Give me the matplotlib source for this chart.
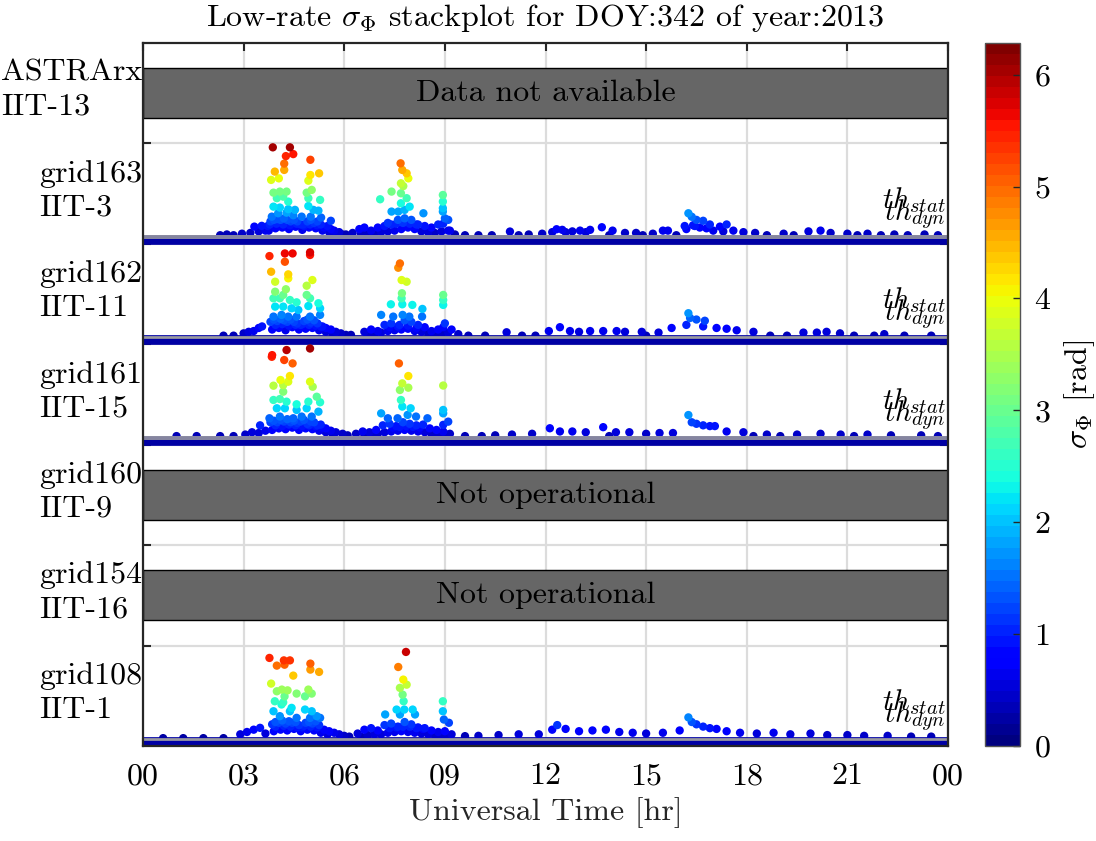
import numpy as np
import matplotlib
matplotlib.use('Agg')
import matplotlib.pyplot as plt
from matplotlib import colors, cm
from matplotlib.patches import Rectangle
from matplotlib.transforms import blended_transform_factory

plt.rcParams['font.family'] = ['cmr10', 'DejaVu Serif']
plt.rcParams['mathtext.fontset'] = 'cm'
plt.rcParams['axes.formatter.use_mathtext'] = True
plt.rcParams['axes.unicode_minus'] = False

# ---- data ----
row_labels = ['ASTRArx\nIIT-13', 'grid163\nIIT-3', 'grid162\nIIT-11', 'grid161\nIIT-15',
              'grid160\nIIT-9', 'grid154\nIIT-16', 'grid108\nIIT-1']
row_status = ['Data not available', None, None, None, 'Not operational', 'Not operational', None]

hour_ticks = [0, 3, 6, 9, 12, 15, 18, 21, 24]
hour_labels = ['00', '03', '06', '09', '12', '15', '18', '21', '00']

th_stat = 0.22
th_dyn = 0.14
band_hours = [0, 24]

# grid163 / IIT-3
g163_h = [3.87, 4.38, 4.26, 4.48, 4.99, 4.21, 4.21, 3.93, 3.82, 4.05, 4.99, 5.25, 4.93,
          3.89, 4.08, 4.28, 3.99, 4.18, 4.33, 4.88, 5.03, 4.93, 5.28,
          3.89, 4.08, 4.33, 4.53, 3.84, 4.03, 4.28, 4.48, 4.73, 4.93, 5.08, 5.23, 5.00, 5.31, 5.60,
          3.72, 3.80, 3.90, 4.00, 4.10, 4.20, 4.30, 4.40, 4.50, 4.60, 4.70, 4.80, 4.90, 5.00, 5.10,
          5.20, 5.30, 5.40, 5.50, 5.60, 5.70, 5.85,
          3.75, 3.95, 4.15, 4.35, 4.55, 4.75, 4.95, 5.15, 5.35, 5.55, 5.75, 5.95,
          3.78, 3.98, 4.18, 4.38, 4.58, 4.78, 4.98, 5.18, 5.38,
          3.32, 3.54, 3.45, 3.20, 2.95, 2.50, 3.65,
          7.68, 7.73, 7.86, 7.91, 7.69, 7.76, 7.41, 7.69, 7.86, 7.07, 7.69, 7.95, 7.80, 7.41, 7.61,
          8.36, 8.94, 8.94, 8.94, 8.94, 9.10,
          6.45, 6.60, 6.80, 7.00, 7.20, 7.40, 7.60, 7.80, 8.00, 8.20, 8.40, 8.60, 8.80, 9.00, 9.15,
          6.50, 6.70, 6.90, 7.10, 7.30, 7.50, 7.70, 7.90, 8.10, 8.30, 8.50, 8.70, 8.90, 9.10, 9.30,
          7.30, 7.55, 7.75, 7.95, 8.15, 8.95,
          6.05, 6.25,
          10.94, 11.5, 11.9, 12.33, 12.5, 12.8, 13.03, 13.33, 13.68, 14.0, 14.37, 14.7, 15.2, 15.5,
          15.65, 16.15, 16.26, 16.36, 16.5, 16.7, 16.9, 17.2, 17.4, 16.4, 17.6, 17.9, 18.25, 19.1,
          19.84, 20.2, 20.5, 21.0, 21.6, 22.4, 23.3,
          16.2, 16.45, 16.6, 16.8, 17.0, 17.3, 12.2, 12.6, 13.2,
          2.3, 2.7, 9.6, 10.0, 10.4, 11.2, 13.9, 14.9, 15.9, 18.6, 19.4, 21.3, 22.0, 22.8, 23.7]
g163_s = [6.02, 6.02, 5.45, 5.58, 5.21, 4.96, 4.55, 4.44, 3.90, 4.00, 4.22, 4.33, 3.85,
          3.07, 3.14, 3.14, 2.71, 2.81, 2.49, 3.07, 3.25, 2.71, 2.60,
          2.16, 2.10, 2.00, 1.95, 1.51, 1.73, 1.77, 1.60, 1.51, 2.20, 1.95, 1.90, 1.51, 1.45, 1.24,
          0.90, 1.20, 1.30, 1.35, 1.30, 1.40, 1.30, 1.20, 1.30, 1.20, 1.00, 0.90, 1.20, 1.30, 1.10,
          1.20, 1.00, 0.80, 0.90, 0.70, 0.60, 0.50,
          0.60, 0.75, 0.80, 0.70, 0.85, 0.65, 0.80, 0.75, 0.60, 0.50, 0.40, 0.35,
          1.00, 1.05, 1.00, 0.95, 1.05, 1.00, 1.00, 0.95, 0.85,
          0.86, 0.91, 0.55, 0.45, 0.40, 0.35, 0.60,
          4.98, 4.55, 4.33, 4.00, 3.68, 3.50, 3.14, 3.03, 2.71, 2.64, 2.38, 2.16, 1.95, 1.84, 1.84,
          1.73, 2.92, 2.49, 2.06, 1.84, 1.30,
          0.70, 0.80, 0.60, 0.80, 0.90, 1.00, 1.30, 1.40, 1.30, 1.00, 0.90, 0.80, 1.00, 1.40, 0.60,
          0.40, 0.45, 0.40, 0.50, 0.55, 0.60, 0.70, 0.80, 0.70, 0.55, 0.50, 0.45, 0.55, 0.60, 0.35,
          1.10, 1.05, 1.10, 1.05, 1.00, 1.05,
          0.35, 0.45,
          0.54, 0.35, 0.40, 0.69, 0.65, 0.55, 0.60, 0.65, 0.82, 0.60, 0.45, 0.45, 0.40, 0.60,
          0.60, 0.90, 1.73, 1.50, 1.30, 1.24, 1.00, 0.86, 1.00, 0.95, 0.60, 0.50, 0.45, 0.40,
          0.55, 0.60, 0.45, 0.40, 0.40, 0.35, 0.35,
          0.70, 0.90, 0.80, 0.75, 0.60, 0.55, 0.50, 0.50, 0.50,
          0.30, 0.30, 0.30, 0.30, 0.30, 0.30, 0.30, 0.30, 0.30, 0.30, 0.30, 0.30, 0.30, 0.30, 0.30]

# grid162 / IIT-11
g162_h = [3.77, 4.23, 4.46, 4.98, 4.98, 4.23, 3.82, 4.33, 4.33, 3.94, 5.05, 4.88, 3.94, 4.26,
          3.89, 4.08, 4.18, 4.38, 4.58, 4.88, 4.98, 5.23,
          3.94, 4.18, 4.43, 4.63, 4.93, 5.28,
          3.89, 4.13, 4.33, 4.58, 4.98, 5.28,
          3.00, 3.15, 3.30, 3.45, 3.55, 3.80, 3.90, 4.00, 4.10, 4.20, 4.30, 4.40, 4.50, 4.60, 4.70,
          4.80, 4.90, 5.00, 5.10, 5.20, 5.30, 5.45, 5.60, 5.75, 5.90, 6.05, 6.20,
          3.85, 4.05, 4.25, 4.45, 4.65, 4.85, 5.05, 5.25, 5.45, 5.65,
          3.95, 4.15, 4.35, 4.55, 4.75, 4.95, 5.15, 5.35,
          7.66, 7.61, 7.71, 7.86, 7.72, 7.71, 7.39, 7.73, 8.03, 8.33, 8.95, 8.95, 8.95, 7.10, 7.46,
          7.74, 7.94, 8.32,
          6.60, 6.80, 7.00, 7.20, 7.40, 7.60, 7.80, 8.00, 8.20, 8.40, 8.60, 8.80, 9.00, 9.20, 9.40,
          6.70, 6.90, 7.10, 7.30, 7.50, 7.70, 7.90, 8.10, 8.30, 8.50, 8.70, 8.90, 9.10,
          7.35, 7.65, 7.90, 8.15, 8.95,
          10.84, 12.1, 12.43, 12.73, 13.0, 13.33, 13.72, 14.12, 14.37, 14.87, 15.37, 15.76, 16.2,
          16.26, 16.31, 16.5, 16.75, 16.7, 17.1, 17.4, 17.7, 18.2, 19.69, 20.09, 20.38, 20.78, 22.1,
          2.4, 2.7, 9.7, 10.2, 11.3, 11.7, 15.0, 18.7, 19.2, 21.2, 21.8, 22.7, 23.5]
g162_s = [5.48, 5.65, 5.65, 5.55, 5.72, 5.11, 4.46, 4.29, 4.03, 3.81, 3.92, 3.55, 3.16, 3.32,
          2.73, 2.73, 2.95, 2.62, 2.47, 2.95, 2.73, 2.41,
          2.19, 2.19, 2.08, 1.97, 2.23, 2.08,
          1.54, 1.65, 1.54, 1.54, 1.54, 1.65,
          0.45, 0.55, 0.60, 0.80, 0.90, 1.20, 1.35, 1.25, 1.40, 1.30, 1.20, 1.35, 1.20, 1.10, 1.00,
          1.25, 1.35, 1.15, 1.30, 1.10, 0.90, 0.80, 0.70, 0.55, 0.45, 0.35, 0.35,
          0.70, 0.80, 0.65, 0.85, 0.70, 0.75, 0.80, 0.65, 0.55, 0.45,
          1.00, 1.05, 0.95, 1.00, 1.05, 1.00, 0.95, 0.90,
          5.00, 4.72, 3.92, 3.81, 3.06, 2.73, 2.34, 2.34, 2.30, 2.04, 2.95, 2.62, 2.30, 1.65, 1.54,
          1.65, 1.54, 1.54,
          0.55, 0.70, 0.60, 1.00, 1.10, 0.90, 1.30, 1.20, 1.00, 0.85, 0.60, 0.70, 1.10, 0.70, 0.40,
          0.40, 0.45, 0.50, 0.60, 0.65, 0.70, 0.75, 0.60, 0.55, 0.45, 0.40, 0.45, 0.50,
          0.85, 1.00, 0.95, 0.80, 0.85,
          0.52, 0.60, 0.85, 0.60, 0.55, 0.60, 0.60, 0.60, 0.55, 0.55, 0.50, 0.80, 1.00,
          1.76, 1.45, 1.35, 1.27, 0.90, 0.80, 0.75, 0.65, 0.55, 0.50, 0.50, 0.55, 0.45, 0.40,
          0.30, 0.30, 0.30, 0.30, 0.30, 0.30, 0.30, 0.30, 0.30, 0.30, 0.30, 0.30, 0.30]

# grid161 / IIT-15
g161_h = [3.84, 3.85, 4.28, 4.98, 4.21, 4.46, 4.38, 4.10, 4.33, 3.89, 4.18, 4.98, 5.06, 4.18,
          3.89, 4.08, 4.28, 4.58, 4.93, 5.18, 5.28,
          3.99, 4.23, 4.58, 4.88, 5.23,
          3.77, 4.08, 4.48, 4.73, 5.03,
          3.05, 3.25, 3.45, 3.65, 3.80, 3.90, 4.00, 4.10, 4.20, 4.30, 4.40, 4.50, 4.60, 4.70, 4.80,
          4.90, 5.00, 5.10, 5.20, 5.30, 5.45, 5.60, 5.75, 5.95, 6.10,
          3.85, 4.05, 4.25, 4.45, 4.65, 4.85, 5.05, 5.25, 5.45, 5.65, 3.49,
          3.95, 4.15, 4.35, 4.55, 4.75, 4.95, 5.15, 5.35,
          7.63, 7.91, 7.73, 7.91, 7.66, 8.95, 7.69, 7.73, 7.98, 8.95, 8.95, 7.10, 7.30, 7.59, 7.89,
          8.14, 8.48, 9.10, 8.95,
          6.35, 6.55, 6.75, 6.95, 7.15, 7.35, 7.55, 7.75, 7.95, 8.15, 8.35, 8.55, 8.75, 8.95, 9.15,
          6.60, 6.80, 7.00, 7.20, 7.40, 7.60, 7.80, 8.00, 8.20, 8.40, 8.60, 8.80, 9.00,
          7.45, 7.65, 7.85, 8.05, 8.25,
          10.5, 11.0, 11.6, 12.13, 12.43, 12.8, 13.2, 13.72, 14.1, 14.5, 15.0, 15.4, 15.8, 16.26,
          16.36, 16.5, 16.7, 16.9, 17.05, 17.4, 17.9, 18.6, 19.5, 20.2, 20.8, 21.6, 22.3, 23.2,
          1.0, 1.6, 2.3, 2.7, 9.6, 10.1, 13.9, 18.2, 19.0, 21.2, 23.7]
g161_s = [5.46, 5.57, 5.90, 6.00, 5.25, 5.03, 4.21, 3.95, 3.84, 3.58, 3.62, 3.84, 3.51, 3.19,
          2.65, 2.71, 2.54, 2.37, 2.54, 2.86, 2.50,
          2.11, 2.11, 2.00, 2.11, 1.89,
          1.46, 1.57, 1.46, 1.57, 1.57,
          0.40, 0.55, 0.50, 0.65, 1.20, 1.30, 1.20, 1.35, 1.25, 1.40, 1.20, 1.30, 1.15, 1.25, 1.35,
          1.10, 1.25, 1.20, 1.00, 1.05, 0.80, 0.65, 0.55, 0.45, 0.35,
          0.70, 0.80, 0.75, 0.85, 0.70, 0.80, 0.75, 0.65, 0.55, 0.45, 1.00,
          1.00, 0.95, 1.05, 1.00, 0.95, 1.00, 0.95, 0.85,
          5.03, 4.21, 3.73, 3.45, 3.30, 3.59, 2.65, 2.22, 2.11, 2.00, 1.78, 1.78, 1.46, 1.46, 1.68,
          1.57, 1.46, 1.24, 1.03,
          0.45, 0.60, 0.55, 0.70, 1.00, 1.10, 0.95, 1.20, 1.10, 1.00, 1.05, 0.80, 0.70, 0.60, 0.45,
          0.35, 0.40, 0.45, 0.55, 0.60, 0.65, 0.70, 0.65, 0.60, 0.55, 0.45, 0.40, 0.45,
          0.85, 0.90, 0.95, 0.90, 0.85,
          0.35, 0.40, 0.45, 0.81, 0.60, 0.60, 0.55, 0.88, 0.55, 0.55, 0.45, 0.50, 0.50, 1.67,
          1.20, 1.10, 1.00, 0.95, 0.95, 0.60, 0.55, 0.40, 0.40, 0.45, 0.40, 0.40, 0.35, 0.35,
          0.30, 0.30, 0.30, 0.30, 0.30, 0.30, 0.30, 0.30, 0.30, 0.30, 0.30]

# grid108 / IIT-1
g108_h = [3.77, 3.99, 4.20, 4.38, 4.22, 4.99, 4.99, 5.25, 4.48, 3.82, 3.99, 4.14, 4.31, 4.58,
          4.93, 4.83, 5.03, 4.22, 4.18,
          3.93, 4.13, 4.43, 4.83, 5.03, 5.18,
          3.89, 4.08, 4.38, 4.58, 4.98, 5.28,
          2.90, 3.10, 3.30, 3.49, 3.65, 3.85, 3.95, 4.05, 4.15, 4.25, 4.35, 4.45, 4.55, 4.65, 4.75,
          4.85, 4.95, 5.05, 5.15, 5.25, 5.40, 5.55, 5.70, 5.85, 6.00, 6.15,
          3.90, 4.10, 4.30, 4.50, 4.70, 4.90, 5.10, 5.30, 5.50,
          3.95, 4.20, 4.40, 4.60, 4.80, 5.00, 5.20,
          7.84, 7.61, 7.76, 7.86, 7.66, 7.74, 7.77, 7.56, 7.79, 8.04, 7.22, 7.66, 8.11, 8.94, 8.94,
          8.97, 9.12,
          6.40, 6.60, 6.80, 7.00, 7.20, 7.40, 7.60, 7.80, 8.00, 8.20, 8.40, 8.60, 8.80, 9.00, 9.20,
          9.60,
          6.50, 6.70, 6.90, 7.10, 7.30, 7.50, 7.70, 7.90, 8.10, 8.30, 8.50, 8.70, 8.90, 9.10,
          7.35, 7.55, 7.75, 7.95, 8.15, 8.35,
          10.0, 10.6, 11.2, 11.8, 12.2, 12.35, 12.6, 13.0, 13.4, 13.8, 14.2, 14.6, 15.0, 15.5, 16.0,
          16.26, 16.36, 16.5, 16.7, 16.9, 17.1, 17.4, 17.8, 18.3, 18.8, 19.3, 19.9, 20.4, 21.0,
          21.5, 22.2, 22.9, 23.5,
          0.6, 1.2, 1.8, 2.4]
g108_s = [5.47, 4.97, 5.31, 5.31, 5.03, 5.10, 4.71, 4.56, 4.32, 3.80, 3.30, 3.41, 3.36, 3.15,
          3.41, 2.97, 3.15, 2.97, 2.58,
          2.65, 2.44, 2.22, 2.11, 2.00, 1.68,
          2.00, 1.68, 2.00, 1.57, 1.57, 1.57,
          0.50, 0.65, 0.80, 0.92, 0.55, 1.15, 1.30, 1.25, 1.40, 1.20, 1.35, 1.25, 1.30, 1.10, 0.95,
          1.25, 1.30, 1.20, 1.35, 1.10, 0.80, 0.70, 0.60, 0.50, 0.40, 0.35,
          0.70, 0.80, 0.75, 0.85, 0.70, 0.80, 0.75, 0.60, 0.50,
          1.00, 1.05, 1.00, 0.95, 1.05, 1.00, 0.95,
          5.86, 4.88, 4.06, 3.73, 3.52, 3.08, 2.65, 2.11, 2.11, 2.11, 1.79, 1.79, 1.79, 2.65, 2.00,
          1.46, 1.25,
          0.55, 0.80, 0.90, 0.75, 1.10, 1.20, 1.00, 1.30, 1.15, 0.95, 0.90, 0.75, 0.65, 0.70, 0.50,
          0.38,
          0.35, 0.45, 0.50, 0.50, 0.60, 0.65, 0.70, 0.65, 0.60, 0.55, 0.50, 0.45, 0.40, 0.40,
          0.90, 0.95, 1.00, 1.00, 0.90, 0.85,
          0.40, 0.45, 0.50, 0.50, 0.80, 1.10, 0.85, 0.70, 0.75, 0.80, 0.65, 0.60, 0.55, 0.60, 0.75,
          1.60, 1.30, 1.15, 1.00, 0.90, 0.85, 0.70, 0.60, 0.55, 0.60, 0.50, 0.55, 0.45, 0.45,
          0.40, 0.40, 0.35, 0.35,
          0.25, 0.25, 0.25, 0.25]

row_data = {1: (g163_h, g163_s), 2: (g162_h, g162_s), 3: (g161_h, g161_s), 6: (g108_h, g108_s)}

# ---- layout ----
OFF = 0.04     # sigma = 0 position inside a row
K = 0.153      # row height per rad
FS = 23

sig_max = 2 * np.pi
cmap = plt.get_cmap('jet', 64)
norm = colors.Normalize(0, sig_max)

fig = plt.figure(figsize=(10.96, 8.41), dpi=100)
ax = fig.add_axes([143/1096, 1-746/841, 805/1096, 703/841])
cax = fig.add_axes([985/1096, 1-746/841, 35/1096, 703/841])

n = len(row_labels)
trans = blended_transform_factory(ax.transAxes, ax.transData)

for i, lab in enumerate(row_labels):
    rb = n - 1 - i
    ax.text(-0.001, rb + 0.53, lab, transform=trans, ha='right', va='center',
            multialignment='left', fontsize=FS, linespacing=1.3)
    if row_status[i] is not None:
        ax.add_patch(Rectangle((0, rb + 0.25), 24, 0.5, fc='#666666', ec='k', lw=1, zorder=2))
        ax.text(12, rb + 0.5, row_status[i], ha='center', va='center', fontsize=FS, zorder=3)
        continue
    h, s = row_data[i]
    h = np.asarray(h); s = np.asarray(s)
    order = np.argsort(s)
    ax.plot(band_hours, [rb + OFF] * 2, color=cmap(norm(0.2)), lw=7,
            solid_capstyle='round', zorder=2.5)
    ax.scatter(h[order], rb + OFF + K * s[order], c=s[order], cmap=cmap, norm=norm,
               s=36, edgecolors='none', zorder=3)
    ax.plot(band_hours, [rb + OFF + K * th_stat] * 2, color='#a0a0a0', lw=1.2, zorder=4)
    ax.plot(band_hours, [rb + OFF + K * th_dyn] * 2, color='#a0a0a0', lw=1.2, zorder=4)
    ax.text(0.997, rb + 0.357, r'$th_{stat}$', transform=trans, ha='right',
            va='baseline', fontsize=21, zorder=5)
    ax.text(0.997, rb + 0.238, r'$th_{dyn}$', transform=trans, ha='right',
            va='baseline', fontsize=21, zorder=5)

ax.set_xlim(0, 24)
ax.set_ylim(0, n)
ax.set_xticks(hour_ticks)
ax.set_xticklabels(hour_labels)
ax.set_yticks(range(1, n))
ax.set_yticklabels([])
ax.grid(True, color='#dcdcdc', lw=1.6)
ax.set_axisbelow(True)
ax.tick_params(direction='in', length=6, width=1.5, top=True, right=True,
               labelsize=FS, pad=12, color='#262626')
for sp in ax.spines.values():
    sp.set_linewidth(1.6)
    sp.set_color('#262626')
    sp.set_zorder(6)
ax.set_xlabel('Universal Time [hr]', fontsize=FS, labelpad=5, color='#262626')
ax.set_title(r'Low-rate $\sigma_\Phi$ stackplot for DOY:342 of year:2013', fontsize=FS, pad=12)

cb = fig.colorbar(cm.ScalarMappable(norm=norm, cmap=cmap), cax=cax, ticks=range(7))
cb.ax.tick_params(direction='in', length=5, width=1, labelsize=FS, pad=10, color='#262626')
cb.outline.set_linewidth(1)
cb.outline.set_edgecolor('#555555')
cb.set_label(r'$\sigma_\Phi$ [rad]', fontsize=FS, labelpad=8)

fig.savefig('out.png', dpi=100)
